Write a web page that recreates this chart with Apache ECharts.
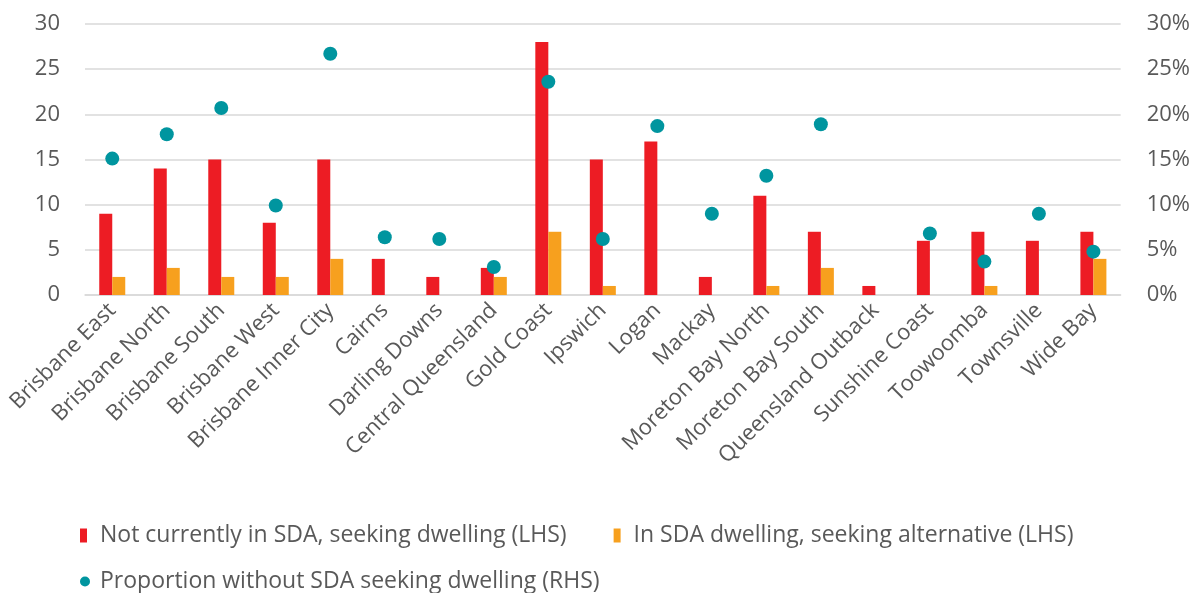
<!DOCTYPE html>
<html>
<head>
<meta charset="utf-8">
<script src="https://cdn.jsdelivr.net/npm/echarts@6/dist/echarts.min.js"></script>
<style>
  html, body { margin: 0; padding: 0; background: #ffffff; }
  #chart { width: 1193px; height: 593px; }
</style>
</head>
<body>
<div id="chart"></div>
<script>
// Queensland regions
const regions = [
  'Brisbane East', 'Brisbane North', 'Brisbane South', 'Brisbane West',
  'Brisbane Inner City', 'Cairns', 'Darling Downs', 'Central Queensland',
  'Gold Coast', 'Ipswich', 'Logan', 'Mackay', 'Moreton Bay North',
  'Moreton Bay South', 'Queensland Outback', 'Sunshine Coast', 'Toowoomba',
  'Townsville', 'Wide Bay'
];

// Counts (left axis)
const notInSdaSeeking = [9, 14, 15, 8, 15, 4, 2, 3, 28, 15, 17, 2, 11, 7, 1, 6, 7, 6, 7];
const inSdaSeekingAlt = [2, 3, 2, 2, 4, 0, 0, 2, 7, 1, 0, 0, 1, 3, 0, 0, 1, 0, 4];

// Proportion without SDA seeking a dwelling, % (right axis)
const proportionSeeking = [15.1, 17.8, 20.7, 9.9, 26.7, 6.4, 6.2, 3.1, 23.6, 6.2, 18.7, 9.0, 13.2, 18.9, null, 6.8, 3.7, 9.0, 4.8];

const leftTicks = { min: 0, max: 30, interval: 5 };
const rightTicks = { min: 0, max: 30, interval: 5 };

const seriesNames = [
  'Not currently in SDA, seeking dwelling (LHS)',
  'In SDA dwelling, seeking alternative (LHS)',
  'Proportion without SDA seeking dwelling (RHS)'
];

const FONT = '"Open Sans", "Noto Sans", sans-serif';
const TEXT = '#595959';
const FS = 22;
const LEGEND_FS = 23;

const chart = echarts.init(document.getElementById('chart'), null, { renderer: 'canvas' });

chart.setOption({
  animation: false,
  textStyle: { fontFamily: FONT, color: TEXT },
  grid: { left: 85, right: 72, top: 24, bottom: 298, containLabel: false },
  legend: [
    {
      data: [
        { name: seriesNames[0], icon: 'rect' },
        { name: seriesNames[1], icon: 'rect' }
      ],
      left: 80, top: 524, padding: 0,
      itemWidth: 7, itemHeight: 14, itemGap: 47,
      textStyle: { fontFamily: FONT, fontSize: LEGEND_FS, color: TEXT, padding: [0, 0, 0, 8] }
    },
    {
      data: [{ name: seriesNames[2], icon: 'circle' }],
      left: 80, top: 570, padding: 0,
      itemWidth: 10, itemHeight: 10,
      textStyle: { fontFamily: FONT, fontSize: LEGEND_FS, color: TEXT, padding: [0, 0, 0, 5] }
    }
  ],
  xAxis: {
    type: 'category',
    data: regions,
    axisLine: { show: true, lineStyle: { color: '#D9D9D9', width: 1.5 } },
    axisTick: { show: false },
    axisLabel: {
      rotate: 45, fontSize: FS, color: TEXT, fontFamily: FONT,
      interval: 0, margin: 12
    }
  },
  yAxis: [
    {
      type: 'value', min: leftTicks.min, max: leftTicks.max, interval: leftTicks.interval,
      axisLine: { show: false }, axisTick: { show: false },
      axisLabel: { fontSize: FS, color: TEXT, fontFamily: FONT, margin: 25 },
      splitLine: { lineStyle: { color: '#D9D9D9', width: 1.5 } }
    },
    {
      type: 'value', min: rightTicks.min, max: rightTicks.max, interval: rightTicks.interval,
      axisLine: { show: false }, axisTick: { show: false },
      axisLabel: { fontSize: FS, color: TEXT, fontFamily: FONT, margin: 26, formatter: '{value}%' },
      splitLine: { show: false }
    }
  ],
  series: [
    {
      name: seriesNames[0], type: 'bar', yAxisIndex: 0,
      data: notInSdaSeeking, barWidth: 13, barGap: '0%',
      itemStyle: { color: '#ED1C24' }
    },
    {
      name: seriesNames[1], type: 'bar', yAxisIndex: 0,
      data: inSdaSeekingAlt, barWidth: 13, barGap: '0%',
      itemStyle: { color: '#F7A01E' }
    },
    {
      name: seriesNames[2], type: 'scatter', yAxisIndex: 1,
      data: proportionSeeking, symbol: 'circle', symbolSize: 14,
      itemStyle: { color: '#00959F', opacity: 1 }
    }
  ]
});
</script>
</body>
</html>
